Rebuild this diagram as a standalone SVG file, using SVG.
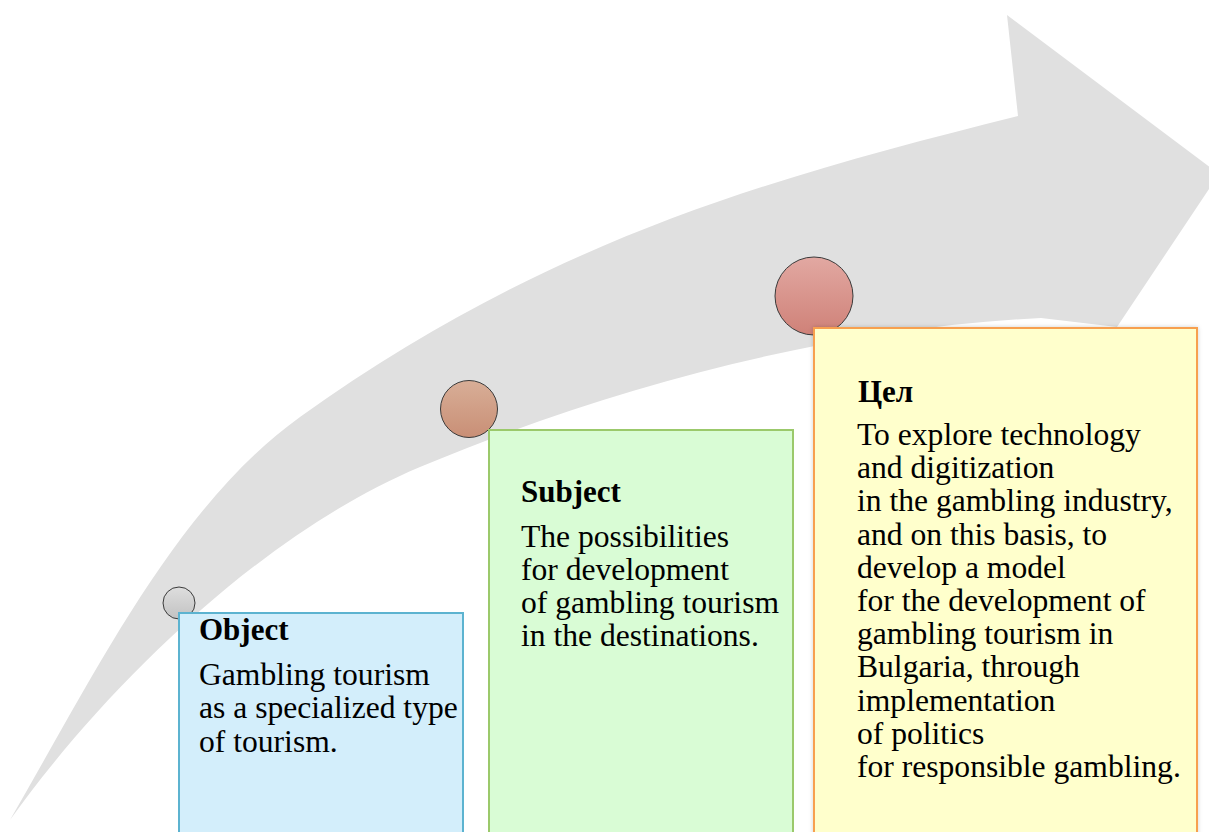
<svg xmlns="http://www.w3.org/2000/svg" width="1209" height="832" viewBox="0 0 1209 832">
<defs>
<linearGradient id="gGrey" x1="0" y1="0" x2="0" y2="1"><stop offset="0" stop-color="#dedede"/><stop offset="1" stop-color="#c2c2c2"/></linearGradient>
<linearGradient id="gTan" x1="0" y1="0" x2="0" y2="1"><stop offset="0" stop-color="#d8ae97"/><stop offset="1" stop-color="#c98f76"/></linearGradient>
<linearGradient id="gRose" x1="0" y1="0" x2="0" y2="1"><stop offset="0" stop-color="#e2a8a2"/><stop offset="1" stop-color="#cf8178"/></linearGradient>
<filter id="sh" x="-5%" y="-5%" width="110%" height="110%"><feDropShadow dx="0" dy="0" stdDeviation="2" flood-color="#000" flood-opacity="0.18"/></filter>
</defs>
<style>
.dot{stroke:#3a3a3a;stroke-width:1}
.box{stroke-width:2}
.t{font-family:"Liberation Serif","Times New Roman",serif;font-size:31.6px;fill:#000}
.b{font-weight:bold;font-size:31px}
</style>
<rect width="1209" height="832" fill="#fff"/>
<g id="arrow">
<path fill="#e0e0e0" d="M10,820 C100,664 178,505 300,417 C544,242 766,179 1018,116 L1007,15 L1219,174 L1117,327 L1041,318 C831,328.5 614,385.7 420,467 C254,536.7 97,698 10,820 Z"/>
</g>
<g id="connectors"></g>
<g id="node-object">
<circle class="dot" cx="179" cy="603" r="16" fill="url(#gGrey)"/>
<rect class="box" x="179" y="613" width="284" height="230" fill="#d3eefb" stroke="#5cb3d0"/>
<text class="t b" x="199" y="640">Object</text>
<text class="t"><tspan x="199" y="685">Gambling tourism</tspan><tspan x="199" y="718.3">as a specialized type</tspan><tspan x="199" y="751.6">of tourism.</tspan></text>
</g>
<g id="node-subject">
<circle class="dot" cx="469" cy="409" r="28.5" fill="url(#gTan)"/>
<rect class="box" x="489" y="430" width="304" height="413" fill="#d9fcd5" stroke="#9bc96b"/>
<text class="t b" x="521" y="502">Subject</text>
<text class="t"><tspan x="521" y="547">The possibilities</tspan><tspan x="521" y="580">for development</tspan><tspan x="521" y="613">of gambling tourism</tspan><tspan x="521" y="646">in the destinations.</tspan></text>
</g>
<g id="node-cel">
<circle class="dot" cx="814" cy="296" r="39" fill="url(#gRose)"/>
<rect class="box" x="814" y="328" width="383" height="515" fill="#ffffcc" stroke="#f7a050" filter="url(#sh)"/>
<text class="t b" x="858" y="402">Цел</text>
<text class="t"><tspan x="857" y="445">To explore technology</tspan><tspan x="857" y="478.2">and digitization</tspan><tspan x="857" y="511.4">in the gambling industry,</tspan><tspan x="857" y="544.6">and on this basis, to</tspan><tspan x="857" y="577.8">develop a model</tspan><tspan x="857" y="611">for the development of</tspan><tspan x="857" y="644.2">gambling tourism in</tspan><tspan x="857" y="677.4">Bulgaria, through</tspan><tspan x="857" y="710.6">implementation</tspan><tspan x="857" y="743.8">of politics</tspan><tspan x="857" y="777">for responsible gambling.</tspan></text>
</g>
</svg>
